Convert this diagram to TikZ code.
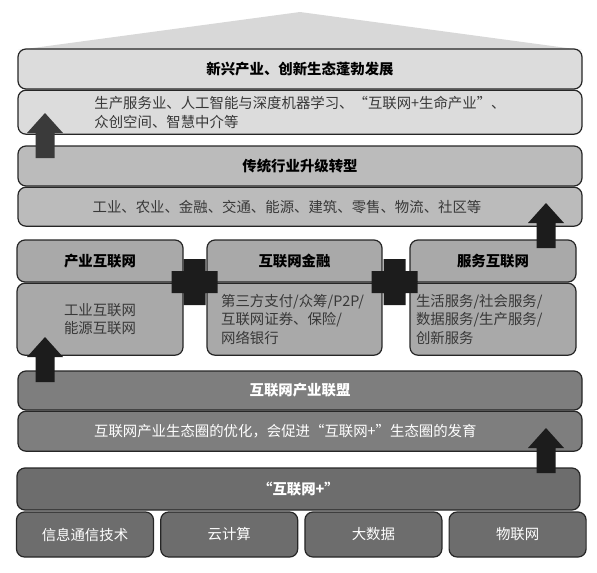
\documentclass[tikz,border=0pt]{standalone}
\usepackage{fontspec}
\setmainfont{Noto Sans CJK SC}
\usetikzlibrary{positioning}

\definecolor{roofgray}{HTML}{D8D8D8}
\definecolor{layerone}{HTML}{DCDCDC}
\definecolor{layertwo}{HTML}{BBBBBB}
\definecolor{layerthree}{HTML}{A9A9A9}
\definecolor{layerfour}{HTML}{7E7E7E}
\definecolor{layerfive}{HTML}{6D6D6D}
\definecolor{textdark}{HTML}{383838}
\definecolor{arrowdark}{HTML}{3A3A3A}
\definecolor{arrowblack}{HTML}{1C1C1C}

\tikzset{
	layer/.style={draw=black!85, line width=0.9pt, rounded corners=6pt,
		inner sep=0pt, font=\fontsize{10.8pt}{14pt}\selectfont},
	bodytext/.style={inner sep=0pt, font=\fontsize{10.8pt}{14pt}\selectfont},
	uparrow/.pic={
		\path[pic actions] (0,0) -- (18,20) -- (9.5,20) -- (9.5,45)
		-- (-9.5,45) -- (-9.5,20) -- (-18,20) -- cycle;
	},
	plusmark/.pic={
		\path[pic actions] (-23,-11) rectangle (23,11) (-11,-23) rectangle (11,23);
	}
}

\begin{document}
\begin{tikzpicture}[x=0.75pt,y=-0.75pt]
		\useasboundingbox (0,0) rectangle (597,572);

		% roof
		\fill[roofgray] (18,50) -- (300,12) -- (582,50) -- cycle;

		\node[layer,
			fill=layerone,
			minimum width=423pt,
			minimum height=30pt
		] (emerge) at (300,69) {\bfseries 新兴产业、创新生态蓬勃发展};

		\node[layer,
			fill=layerone,
			below=0pt of emerge,
			minimum width=423pt,
			minimum height=33pt,
			align=left,
			text=textdark
		] (emergebody) {生产服务业、人工智能与深度机器学习、“互联网+生命产业”、\\众创空间、智慧中介等};

		\node[layer,
			fill=layertwo,
			minimum width=423pt,
			minimum height=30pt
		] (upgrade) at (300,166) {\bfseries 传统行业升级转型};

		\node[layer,
			fill=layertwo,
			below=0pt of upgrade,
			minimum width=423pt,
			minimum height=29.25pt
		] (upgradebody) {};
		\node[bodytext, text=textdark] (upgradetext) at ([xshift=-9.75pt]upgradebody.center)
			{工业、农业、金融、交通、能源、建筑、零售、物流、社区等};

		% three internet sectors
		\node[layer,
			fill=layerthree,
			minimum width=124.5pt,
			minimum height=31.5pt
		] (industry) at (100,261) {\bfseries 产业互联网};

		\node[layer,
			fill=layerthree,
			below=0pt of industry,
			minimum width=124.5pt,
			minimum height=54pt,
			align=center,
			text=textdark
		] (industrybody) {工业互联网\\能源互联网};

		\node[layer,
			fill=layerthree,
			minimum width=131.25pt,
			minimum height=31.5pt
		] (finance) at (294.5,261) {\bfseries 互联网金融};

		\node[layer,
			fill=layerthree,
			below=0pt of finance,
			text width=110pt,
			inner xsep=10.6pt,
			minimum height=54pt,
			align=left,
			text=textdark
		] (financebody) {第三方支付/众筹/P2P/\\互联网证券、保险/\\网络银行};

		\node[layer,
			fill=layerthree,
			minimum width=124.5pt,
			minimum height=31.5pt
		] (service) at (493,261) {\bfseries 服务互联网};

		\node[layer,
			fill=layerthree,
			below=0pt of service,
			text width=115.5pt,
			inner xsep=4.5pt,
			minimum height=54pt,
			align=left,
			text=textdark
		] (servicebody) {生活服务/社会服务/\\数据服务/生产服务/\\创新服务};

		\pic[fill=arrowblack] at (194.5,282) {plusmark};
		\pic[fill=arrowblack] at (394.5,282) {plusmark};

		\node[layer,
			fill=layerfour,
			minimum width=423pt,
			minimum height=29.25pt,
			text=white
		] (alliance) at (300,390.5) {\bfseries 互联网产业联盟};

		\node[layer,
			fill=layerfour,
			below=0pt of alliance,
			minimum width=423pt,
			minimum height=30pt
		] (alliancebody) {};
		\node[bodytext, text=white] (alliancetext) at ([xshift=-11pt]alliancebody.center)
			{互联网产业生态圈的优化，会促进“互联网+”生态圈的发育};

		\node[layer,
			fill=layerfive,
			minimum width=422.25pt,
			minimum height=31.5pt,
			text=white
		] (plusbase) at (298.5,489) {\bfseries “互联网+”};

		% four technologies
		\node[layer,
			fill=layerfive,
			minimum width=102.75pt,
			minimum height=33.75pt,
			text=white
		] (ict) at (85,534.5) {信息通信技术};

		\node[layer,
			fill=layerfive,
			right=4.5pt of ict,
			minimum width=102.75pt,
			minimum height=33.75pt,
			text=white
		] (cloud) {云计算};

		\node[layer,
			fill=layerfive,
			right=4.5pt of cloud,
			minimum width=102.75pt,
			minimum height=33.75pt,
			text=white
		] (bigdata) {大数据};

		\node[layer,
			fill=layerfive,
			right=4.5pt of bigdata,
			minimum width=102.75pt,
			minimum height=33.75pt,
			text=white
		] (iot) {物联网};

		% upward arrows
		\pic[fill=arrowdark] at (45,113) {uparrow};
		\pic[fill=arrowblack] at (546,203) {uparrow};
		\pic[fill=arrowblack] at (45,337) {uparrow};
		\pic[fill=arrowblack] at (546,428) {uparrow};

	\end{tikzpicture}
\end{document}
